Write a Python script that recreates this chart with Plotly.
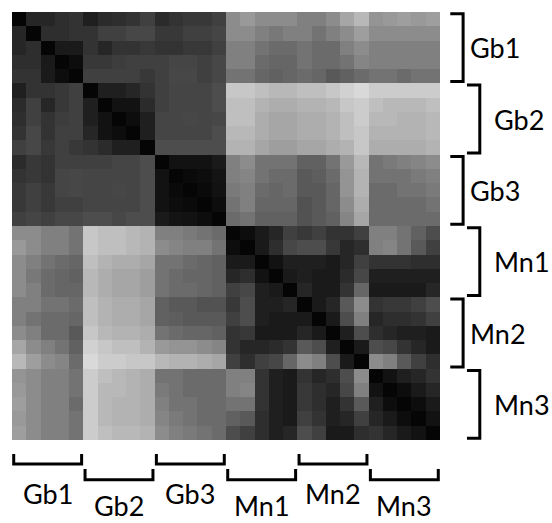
import numpy as np
import plotly.graph_objects as go

groups = ["Gb1", "Gb2", "Gb3", "Mn1", "Mn2", "Mn3"]

# Gb x Gb block (rows 0-14, cols 0-14), gray level 0=black 1=white
gb_gb = [
    [0.02, 0.15, 0.15, 0.18, 0.20, 0.12, 0.17, 0.18, 0.20, 0.25, 0.17, 0.20, 0.22, 0.22, 0.25],
    [0.15, 0.02, 0.18, 0.18, 0.20, 0.20, 0.25, 0.25, 0.28, 0.28, 0.22, 0.22, 0.25, 0.25, 0.27],
    [0.15, 0.18, 0.02, 0.10, 0.10, 0.20, 0.15, 0.20, 0.20, 0.22, 0.20, 0.20, 0.22, 0.22, 0.25],
    [0.18, 0.18, 0.10, 0.02, 0.05, 0.22, 0.22, 0.24, 0.25, 0.25, 0.25, 0.27, 0.27, 0.25, 0.28],
    [0.20, 0.20, 0.10, 0.05, 0.02, 0.25, 0.25, 0.25, 0.25, 0.22, 0.25, 0.28, 0.28, 0.25, 0.28],
    [0.12, 0.20, 0.20, 0.22, 0.25, 0.02, 0.12, 0.12, 0.15, 0.20, 0.25, 0.27, 0.27, 0.27, 0.30],
    [0.17, 0.25, 0.15, 0.22, 0.25, 0.12, 0.02, 0.07, 0.07, 0.17, 0.25, 0.27, 0.27, 0.27, 0.30],
    [0.18, 0.25, 0.20, 0.24, 0.25, 0.12, 0.07, 0.02, 0.05, 0.12, 0.27, 0.27, 0.28, 0.27, 0.28],
    [0.20, 0.28, 0.20, 0.25, 0.25, 0.15, 0.07, 0.05, 0.02, 0.12, 0.27, 0.27, 0.27, 0.27, 0.30],
    [0.25, 0.28, 0.22, 0.25, 0.22, 0.20, 0.17, 0.12, 0.12, 0.02, 0.30, 0.30, 0.30, 0.30, 0.30],
    [0.17, 0.22, 0.20, 0.25, 0.25, 0.25, 0.25, 0.27, 0.27, 0.30, 0.02, 0.07, 0.07, 0.07, 0.10],
    [0.20, 0.22, 0.20, 0.27, 0.28, 0.27, 0.27, 0.27, 0.27, 0.30, 0.07, 0.02, 0.04, 0.05, 0.08],
    [0.22, 0.25, 0.22, 0.27, 0.28, 0.27, 0.27, 0.28, 0.27, 0.30, 0.07, 0.04, 0.02, 0.04, 0.07],
    [0.22, 0.25, 0.22, 0.25, 0.25, 0.27, 0.27, 0.27, 0.27, 0.30, 0.07, 0.05, 0.04, 0.02, 0.05],
    [0.25, 0.27, 0.25, 0.28, 0.28, 0.30, 0.30, 0.28, 0.30, 0.30, 0.10, 0.08, 0.07, 0.05, 0.02],
]

# Gb rows x Mn cols block (rows 0-14, cols 15-29)
gb_mn = [
    [0.55, 0.60, 0.55, 0.55, 0.55, 0.50, 0.50, 0.55, 0.65, 0.72, 0.58, 0.60, 0.62, 0.60, 0.62],
    [0.55, 0.55, 0.50, 0.47, 0.50, 0.50, 0.45, 0.50, 0.55, 0.62, 0.55, 0.55, 0.55, 0.55, 0.55],
    [0.50, 0.50, 0.45, 0.42, 0.42, 0.45, 0.42, 0.42, 0.50, 0.55, 0.50, 0.50, 0.50, 0.50, 0.50],
    [0.50, 0.50, 0.42, 0.40, 0.40, 0.45, 0.42, 0.42, 0.45, 0.52, 0.50, 0.50, 0.50, 0.50, 0.50],
    [0.45, 0.45, 0.40, 0.38, 0.40, 0.42, 0.40, 0.35, 0.38, 0.42, 0.45, 0.45, 0.42, 0.45, 0.45],
    [0.78, 0.78, 0.75, 0.72, 0.72, 0.75, 0.75, 0.78, 0.82, 0.85, 0.80, 0.80, 0.80, 0.80, 0.80],
    [0.75, 0.75, 0.70, 0.68, 0.68, 0.70, 0.70, 0.72, 0.78, 0.80, 0.75, 0.72, 0.72, 0.72, 0.75],
    [0.75, 0.75, 0.68, 0.65, 0.65, 0.68, 0.68, 0.70, 0.75, 0.80, 0.72, 0.72, 0.70, 0.70, 0.72],
    [0.72, 0.72, 0.68, 0.65, 0.65, 0.68, 0.68, 0.70, 0.75, 0.78, 0.70, 0.70, 0.70, 0.70, 0.72],
    [0.70, 0.70, 0.65, 0.62, 0.62, 0.65, 0.65, 0.68, 0.70, 0.78, 0.68, 0.68, 0.68, 0.68, 0.70],
    [0.50, 0.55, 0.45, 0.45, 0.45, 0.38, 0.38, 0.45, 0.60, 0.72, 0.45, 0.48, 0.50, 0.52, 0.55],
    [0.50, 0.52, 0.45, 0.42, 0.42, 0.35, 0.37, 0.42, 0.58, 0.70, 0.45, 0.45, 0.45, 0.48, 0.50],
    [0.48, 0.50, 0.42, 0.40, 0.42, 0.35, 0.35, 0.40, 0.58, 0.70, 0.42, 0.42, 0.45, 0.45, 0.48],
    [0.45, 0.50, 0.40, 0.40, 0.40, 0.32, 0.35, 0.40, 0.55, 0.68, 0.42, 0.42, 0.42, 0.42, 0.45],
    [0.42, 0.45, 0.38, 0.38, 0.38, 0.32, 0.35, 0.38, 0.52, 0.65, 0.42, 0.42, 0.42, 0.42, 0.42],
]

# Mn x Mn block (rows 15-29, cols 15-29)
mn_mn = [
    [0.02, 0.05, 0.10, 0.15, 0.25, 0.22, 0.25, 0.20, 0.20, 0.25, 0.50, 0.50, 0.45, 0.38, 0.30],
    [0.05, 0.02, 0.10, 0.18, 0.28, 0.30, 0.30, 0.22, 0.15, 0.18, 0.50, 0.52, 0.45, 0.35, 0.25],
    [0.10, 0.10, 0.02, 0.07, 0.12, 0.12, 0.12, 0.10, 0.15, 0.25, 0.20, 0.20, 0.20, 0.18, 0.18],
    [0.15, 0.18, 0.07, 0.02, 0.10, 0.12, 0.10, 0.10, 0.17, 0.28, 0.12, 0.12, 0.12, 0.12, 0.12],
    [0.25, 0.28, 0.12, 0.10, 0.02, 0.15, 0.10, 0.10, 0.20, 0.40, 0.10, 0.10, 0.10, 0.10, 0.15],
    [0.22, 0.30, 0.12, 0.12, 0.15, 0.02, 0.10, 0.15, 0.35, 0.55, 0.20, 0.22, 0.22, 0.25, 0.30],
    [0.25, 0.30, 0.12, 0.10, 0.10, 0.10, 0.02, 0.10, 0.30, 0.50, 0.15, 0.18, 0.18, 0.20, 0.25],
    [0.20, 0.22, 0.10, 0.10, 0.10, 0.15, 0.10, 0.02, 0.12, 0.30, 0.18, 0.15, 0.12, 0.12, 0.10],
    [0.20, 0.15, 0.15, 0.17, 0.20, 0.35, 0.30, 0.12, 0.02, 0.10, 0.30, 0.28, 0.20, 0.15, 0.10],
    [0.25, 0.18, 0.25, 0.28, 0.40, 0.55, 0.50, 0.30, 0.10, 0.02, 0.55, 0.50, 0.35, 0.25, 0.18],
    [0.50, 0.50, 0.20, 0.12, 0.10, 0.20, 0.15, 0.18, 0.30, 0.55, 0.02, 0.07, 0.12, 0.15, 0.20],
    [0.50, 0.52, 0.20, 0.12, 0.10, 0.22, 0.18, 0.15, 0.28, 0.50, 0.07, 0.02, 0.05, 0.10, 0.15],
    [0.45, 0.45, 0.20, 0.12, 0.10, 0.22, 0.18, 0.12, 0.20, 0.35, 0.12, 0.05, 0.02, 0.05, 0.10],
    [0.38, 0.35, 0.18, 0.12, 0.10, 0.25, 0.20, 0.12, 0.15, 0.25, 0.15, 0.10, 0.05, 0.02, 0.07],
    [0.30, 0.25, 0.18, 0.12, 0.15, 0.30, 0.25, 0.10, 0.10, 0.18, 0.20, 0.15, 0.10, 0.07, 0.02],
]

top = np.hstack([np.array(gb_gb), np.array(gb_mn)])
bottom = np.hstack([np.array(gb_mn).T, np.array(mn_mn)])
z = np.vstack([top, bottom])
n = z.shape[0]

fig = go.Figure(go.Heatmap(
    z=z, x=list(range(n)), y=list(range(n)),
    colorscale=[[0, "black"], [1, "white"]], zmin=0, zmax=1,
    showscale=False, hoverinfo="skip",
))

shapes = []
annotations = []
ng = len(groups)
inset = 0.004
lw = 3
font = dict(family="Lato", size=27, color="black")
for k, name in enumerate(groups):
    far = (k % 2 == 1)
    a = k / ng + inset
    b = (k + 1) / ng - inset
    c = (k + 0.5) / ng
    # bottom bracket
    yl = -0.093 if far else -0.056
    yt = -0.068 if far else -0.033
    shapes.append(dict(type="path", xref="x domain", yref="y domain",
                       path=f"M {a},{yt} L {a},{yl} L {b},{yl} L {b},{yt}",
                       line=dict(color="black", width=lw)))
    annotations.append(dict(xref="x domain", yref="y domain", x=c,
                            y=-0.152 if far else -0.124, text=name,
                            showarrow=False, xanchor="center", yanchor="middle",
                            font=font))
    # right bracket (rows top to bottom)
    ya = 1 - k / ng - inset
    yb = 1 - (k + 1) / ng + inset
    yc = 1 - (k + 0.5) / ng
    xl = 1.093 if far else 1.054
    xt = 1.063 if far else 1.024
    shapes.append(dict(type="path", xref="x domain", yref="y domain",
                       path=f"M {xt},{ya} L {xl},{ya} L {xl},{yb} L {xt},{yb}",
                       line=dict(color="black", width=lw)))
    annotations.append(dict(xref="x domain", yref="y domain",
                            x=1.121 if far else 1.065, y=yc, text=name,
                            showarrow=False, xanchor="left", yanchor="middle",
                            font=font))

fig.update_layout(
    width=552, height=523,
    margin=dict(l=12, r=112, t=12, b=83),
    paper_bgcolor="white", plot_bgcolor="white",
    xaxis=dict(visible=False, range=[-0.5, n - 0.5]),
    yaxis=dict(visible=False, range=[n - 0.5, -0.5]),
    shapes=shapes, annotations=annotations,
    showlegend=False,
)

fig.write_html("out.html")
